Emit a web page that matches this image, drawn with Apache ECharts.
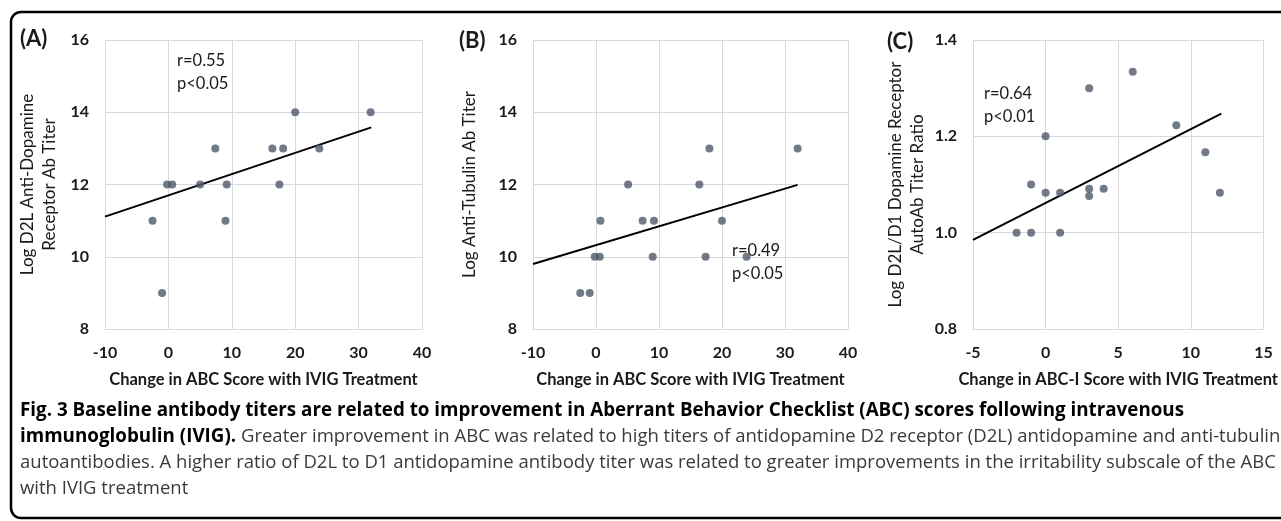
<!DOCTYPE html>
<html>
<head>
<meta charset="utf-8">
<script src="https://cdn.jsdelivr.net/npm/echarts@6/dist/echarts.min.js"></script>
<style>
html,body{margin:0;padding:0;background:#fff;}
#chart{width:1281px;height:521px;}
</style>
</head>
<body>
<div id="chart"></div>
<script>
// ---- Data ----
const panelA_x = [-2.5, -1.0, -0.2, 0.6, 5.0, 7.4, 9.2, 9.0, 16.4, 18.1, 17.5, 20.0, 23.8, 31.9];
const panelA_y = [11, 9, 12, 12, 12, 13, 12, 11, 13, 13, 12, 14, 13, 14];
const panelA_trendX = [-10, 32];
const panelA_trendY = [11.11, 13.58];

const panelB_x = [-2.5, -1.0, -0.2, 0.6, 0.7, 5.1, 7.4, 9.2, 9.0, 16.4, 18.0, 17.4, 20.0, 23.9, 32.0];
const panelB_y = [9, 9, 10, 10, 11, 12, 11, 11, 10, 12, 13, 10, 11, 10, 13];
const panelB_trendX = [-10, 32];
const panelB_trendY = [9.80, 11.99];

const panelC_x = [-2, -1, 1, -1, 0, 0, 1, 3, 3, 4, 3, 6, 9, 11, 12];
const panelC_y = [1.0, 1.0, 1.0, 1.10, 1.083, 1.2, 1.083, 1.091, 1.076, 1.091, 1.30, 1.334, 1.223, 1.167, 1.083];
const panelC_trendX = [-5, 12.1];
const panelC_trendY = [0.985, 1.247];

const xTitleAB = 'Change in ABC Score with IVIG Treatment';
const xTitleC = 'Change in ABC-I Score with IVIG Treatment';
const yTitleA = 'Log D2L Anti-Dopamine\nReceptor Ab Titer';
const yTitleB = 'Log Anti-Tubulin Ab Titer';
const yTitleC = 'Log D2L/D1 Dopamine Receptor\nAutoAb Titer Ratio';
const statsA = ['r=0.55', 'p<0.05'];
const statsB = ['r=0.49', 'p<0.05'];
const statsC = ['r=0.64', 'p<0.01'];
const captionBold1 = 'Fig. 3 Baseline antibody titers are related to improvement in Aberrant Behavior Checklist (ABC) scores following intravenous';
const captionBold2 = 'immunoglobulin (IVIG).';
const captionText2 = ' Greater improvement in ABC was related to high titers of antidopamine D2 receptor (D2L) antidopamine and anti-tubulin';
const captionText3 = 'autoantibodies. A higher ratio of D2L to D1 antidopamine antibody titer was related to greater improvements in the irritability subscale of the ABC';
const captionText4 = 'with IVIG treatment';

// ---- Styles ----
const FONT = 'Lato, "Open Sans", sans-serif';
const CAP_FONT = '"Open Sans", "Noto Sans", sans-serif';
const gridColor = '#d9d9d9';
const dotColor = '#4e5969';
const labelColor = '#1a1a1a';

function zip(xs, ys){ return xs.map((x,i)=>[x, ys[i]]); }

function xAxis(gi, min, max, interval, name){
  return {
    type:'value', gridIndex:gi, min, max, interval,
    name, nameLocation:'middle', nameGap:42,
    nameTextStyle:{fontFamily:FONT, fontSize:16.5, color:labelColor, fontWeight:'bold'},
    axisLine:{show:true, lineStyle:{color:gridColor, width:1}},
    axisTick:{show:false},
    axisLabel:{fontFamily:FONT, fontSize:16, color:labelColor, margin:16, fontWeight:'bold'},
    splitLine:{show:true, lineStyle:{color:gridColor, width:1}}
  };
}
function yAxis(gi, min, max, interval, name, gap, fmt){
  return {
    type:'value', gridIndex:gi, min, max, interval,
    name, nameLocation:'middle', nameGap:gap, nameRotate:90,
    nameTextStyle:{fontFamily:FONT, fontSize:17, color:labelColor, lineHeight:22, fontWeight:'normal'},
    axisLine:{show:true, lineStyle:{color:gridColor, width:1}},
    axisTick:{show:false},
    axisLabel:{fontFamily:FONT, fontSize:16, color:labelColor, margin:16, fontWeight:'bold', formatter:fmt},
    splitLine:{show:true, lineStyle:{color:gridColor, width:1}}
  };
}
function scatter(i, data){
  return {type:'scatter', xAxisIndex:i, yAxisIndex:i, data, symbolSize:8,
    itemStyle:{color:dotColor}, silent:true, z:3};
}
function trend(i, data){
  return {type:'line', xAxisIndex:i, yAxisIndex:i, data, symbol:'none',
    lineStyle:{color:'#000', width:2}, silent:true, z:2};
}
function txt(x, y, text, size, weight){
  return {type:'text', left:x, top:y, silent:true,
    style:{text, fontFamily:FONT, fontSize:size, fontWeight:weight||'normal', fill:labelColor}};
}
function stats(x, y, lines){
  return {type:'text', left:x, top:y, silent:true,
    style:{text:lines.join('\n'), fontFamily:FONT, fontSize:16.5, lineHeight:23, fill:labelColor}};
}

const chart = echarts.init(document.getElementById('chart'), null, {renderer:'canvas'});
chart.setOption({
  animation:false,
  backgroundColor:'#fff',
  grid:[
    {left:105, top:40, width:317, height:289},
    {left:533, top:40, width:315, height:289},
    {left:973, top:40, width:300, height:289}
  ],
  xAxis:[
    xAxis(0, -10, 40, 10, xTitleAB),
    xAxis(1, -10, 40, 10, xTitleAB),
    xAxis(2, -5, 15, 5, xTitleC)
  ],
  yAxis:[
    yAxis(0, 8, 16, 2, yTitleA, 44),
    yAxis(1, 8, 16, 2, yTitleB, 52),
    yAxis(2, 0.8, 1.4, 0.2, yTitleC, 44, v => v.toFixed(1))
  ],
  series:[
    trend(0, zip(panelA_trendX, panelA_trendY)),
    scatter(0, zip(panelA_x, panelA_y)),
    trend(1, zip(panelB_trendX, panelB_trendY)),
    scatter(1, zip(panelB_x, panelB_y)),
    trend(2, zip(panelC_trendX, panelC_trendY)),
    scatter(2, zip(panelC_x, panelC_y))
  ],
  graphic:[
    {type:'rect', silent:true, shape:{x:11, y:12, width:1300, height:506, r:10},
      style:{fill:'none', stroke:'#000', lineWidth:2.5}},
    txt(20, 28, '(A)', 22, 'bold'),
    txt(459, 30, '(B)', 22, 'bold'),
    txt(887, 31, '(C)', 22, 'bold'),
    stats(177, 49, statsA),
    stats(732, 239, statsB),
    stats(984, 82, statsC),
    {type:'text', left:20, top:397, silent:true,
      style:{
        text: '{b|' + captionBold1 + '}\n{b|' + captionBold2 + '}{n|' + captionText2 + '}\n{n|' + captionText3 + '}\n{n|' + captionText4 + '}',
        fontFamily:CAP_FONT, fontSize:18.5, lineHeight:26,
        rich:{
          b:{fontFamily:CAP_FONT, fontSize:18.8, fontWeight:'bold', fill:'#000', lineHeight:26.5},
          n:{fontFamily:CAP_FONT, fontSize:18.5, fontWeight:'normal', fill:'#3a3a3a', lineHeight:26}
        }
      }}
  ]
});
</script>
</body>
</html>
